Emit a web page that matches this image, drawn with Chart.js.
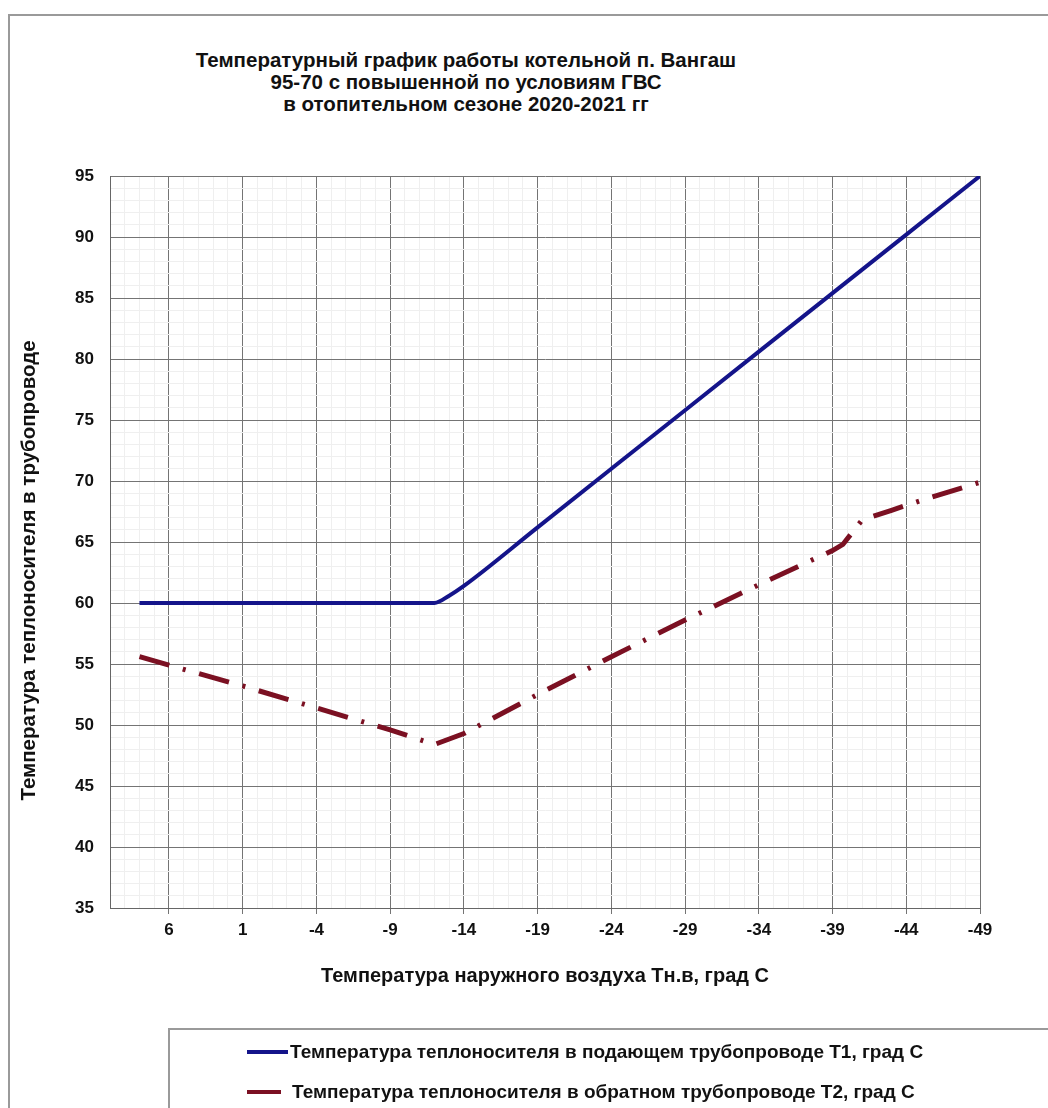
<!DOCTYPE html>
<html lang="ru">
<head>
<meta charset="utf-8">
<title>Температурный график</title>
<script src="https://cdn.jsdelivr.net/npm/chart.js@4.4.1/dist/chart.umd.min.js"></script>
<style>
    html, body { margin: 0; padding: 0; background: #fff; }
    body { width: 1048px; height: 1108px; position: relative; overflow: hidden;
           font-family: "Liberation Sans", Arial, sans-serif; color: #111; }
    #frame { position: absolute; left: 8px; top: 14px; width: 1100px; height: 1200px;
             border-left: 2px solid #9a9a9a; border-top: 2px solid #9a9a9a; }
    #title { position: absolute; left: 116px; width: 700px; top: 49px; text-align: center;
             font-weight: bold; font-size: 20.5px; line-height: 22px; }
    #chart { position: absolute; left: 0; top: 0; }
    #legend { position: absolute; left: 168px; top: 1028px; width: 1000px; height: 200px;
              border: 2px solid #9a9a9a; box-sizing: border-box;
              font-family: "Liberation Sans Narrow", "Liberation Sans", Arial, sans-serif;
              font-weight: bold; font-size: 19px; }
    .item { position: absolute; left: 0; height: 24px; line-height: 24px; white-space: nowrap; }
    .item span.line { position: absolute; top: 10px; height: 4px; }
    .item span.txt { position: absolute; top: 0; }
</style>
</head>
<body>
<div id="frame"></div>
<div id="title">Температурный график работы котельной п. Вангаш<br>95-70 с повышенной по условиям ГВС<br>в отопительном сезоне 2020-2021 гг</div>
<canvas id="chart" width="1048" height="1108"></canvas>
<div id="legend">
    <div class="item" style="top: 10px;"><span class="line" style="left: 77px; width: 41px; background: #14148a;"></span><span class="txt" style="left: 120px;">Температура теплоносителя в подающем трубопроводе Т1, град С</span></div>
    <div class="item" style="top: 50px;"><span class="line" style="left: 77px; width: 34px; background: #7b1022;"></span><span class="txt" style="left: 122px;">Температура теплоносителя в обратном трубопроводе Т2, град С</span></div>
</div>
<script>
// Температура наружного воздуха (ось X) и значения серий
const t1Temps = [8, 6, 1, -4, -9, -11, -12, -13, -14, -19, -24, -29, -34, -39, -44, -49];
const t1Values = [60, 60, 60, 60, 60, 60, 60, 60.6, 61.4, 66.2, 71.0, 75.8, 80.6, 85.4, 90.2, 95];

const t2Temps = [8, 6, 1, -4, -9, -12, -14, -19, -24, -29, -34, -39, -39.7, -41, -43, -45, -49];
const t2Values = [55.6, 54.9, 53.2, 51.4, 49.6, 48.4, 49.3, 52.5, 55.6, 58.6, 61.5, 64.3, 64.8, 66.8, 67.6, 68.4, 69.9];

const xTickLabels = ['6', '1', '-4', '-9', '-14', '-19', '-24', '-29', '-34', '-39', '-44', '-49'];
const yTickLabels = ['35', '40', '45', '50', '55', '60', '65', '70', '75', '80', '85', '90', '95'];

const seriesNames = [
    'Температура теплоносителя в подающем трубопроводе Т1, град С',
    'Температура теплоносителя в обратном трубопроводе Т2, град С'
];

const toPoints = (xs, ys) => xs.map((x, i) => ({ x: x, y: ys[i] }));

const majorColor = '#747474';
const minorColor = '#efefef';
const tickFont = { family: 'Liberation Sans', size: 17, weight: 'bold' };
const titleFont = { family: 'Liberation Sans', size: 20, weight: 'bold' };
const yTitleFont = { family: 'Liberation Sans', size: 20.5, weight: 'bold' };

const isMajorX = v => xTickLabels.includes(String(v)) || v === 10;
const isMajorY = v => yTickLabels.includes(String(v));

const ctx = document.getElementById('chart').getContext('2d');
new Chart(ctx, {
    type: 'line',
    data: {
        datasets: [
            {
                label: seriesNames[0],
                data: toPoints(t1Temps, t1Values),
                borderColor: '#14148a',
                borderWidth: 4,
                pointRadius: 0,
                cubicInterpolationMode: 'monotone',
                fill: false
            },
            {
                label: seriesNames[1],
                data: toPoints(t2Temps, t2Values),
                borderColor: '#7b1022',
                borderWidth: 5,
                borderDash: [31, 14, 3, 14],
                borderCapStyle: 'butt',
                pointRadius: 0,
                tension: 0,
                fill: false
            }
        ]
    },
    options: {
        responsive: false,
        animation: false,
        layout: { padding: { left: 8, right: 68, top: 176, bottom: 120 } },
        plugins: {
            legend: { display: false },
            title: { display: false },
            tooltip: { enabled: false }
        },
        scales: {
            x: {
                type: 'linear',
                reverse: true,
                min: -49,
                max: 10,
                afterFit: s => { s.height = 80; },
                border: { display: true, color: '#666', width: 1 },
                grid: {
                    color: c => isMajorX(c.tick.value) ? majorColor : minorColor,
                    tickColor: c => isMajorX(c.tick.value) && c.tick.value !== 10 ? majorColor : 'rgba(0,0,0,0)',
                    tickLength: 6,
                    lineWidth: 1
                },
                ticks: {
                    stepSize: 1,
                    maxTicksLimit: 100,
                    autoSkip: false,
                    maxRotation: 0,
                    padding: 6,
                    color: '#111',
                    font: tickFont,
                    callback: v => xTickLabels.includes(String(v)) ? String(v) : ''
                },
                title: {
                    display: true,
                    text: 'Температура наружного воздуха Тн.в, град С',
                    color: '#111',
                    font: titleFont,
                    padding: { top: 1, bottom: 0 }
                }
            },
            y: {
                type: 'linear',
                min: 35,
                max: 95,
                afterFit: s => { s.width = 102; },
                border: { display: true, color: '#666', width: 1 },
                grid: {
                    color: c => isMajorY(c.tick.value) ? majorColor : minorColor,
                    drawTicks: false,
                    lineWidth: 1
                },
                ticks: {
                    stepSize: 1,
                    maxTicksLimit: 100,
                    autoSkip: false,
                    padding: 16,
                    color: '#111',
                    font: tickFont,
                    callback: v => yTickLabels.includes(String(v)) ? String(v) : ''
                },
                title: {
                    display: true,
                    text: 'Температура теплоносителя в трубопроводе' + '\u00a0'.repeat(10),
                    color: '#111',
                    font: yTitleFont,
                    padding: { top: 9, bottom: 0 }
                }
            }
        }
    }
});
</script>
</body>
</html>
